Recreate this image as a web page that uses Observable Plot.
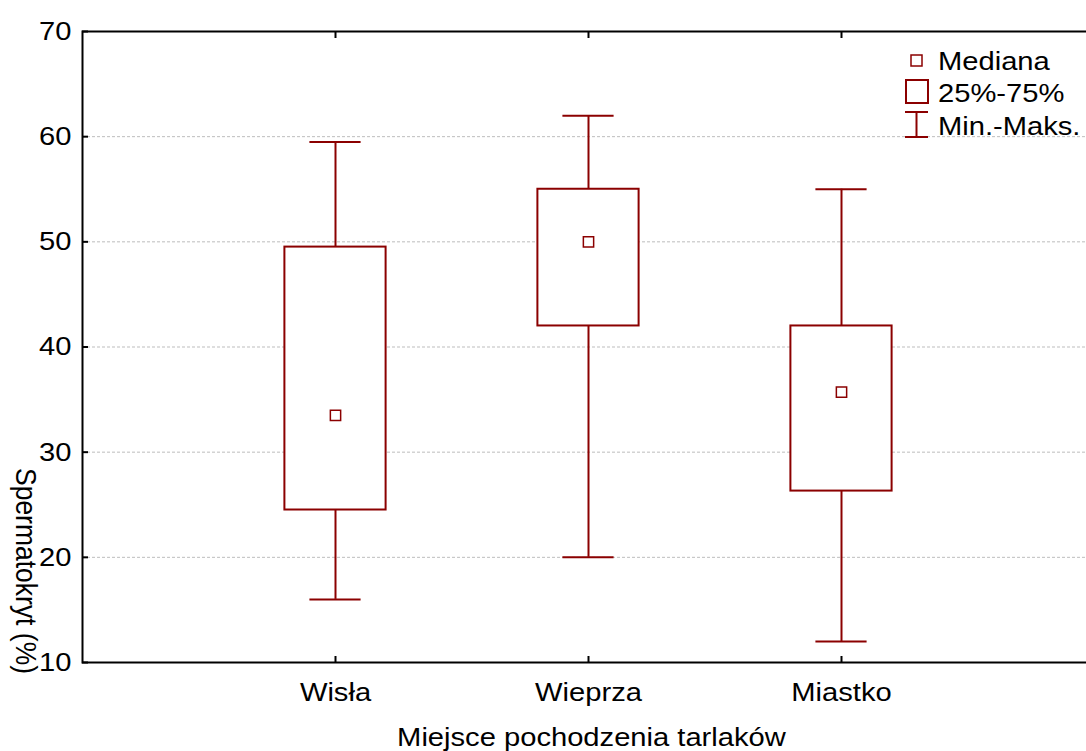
<!DOCTYPE html>
<html><head><meta charset="utf-8">
<script src="https://cdn.jsdelivr.net/npm/d3@7"></script>
<script src="https://cdn.jsdelivr.net/npm/@observablehq/plot@0.6"></script>
<style>
body{margin:0;background:#fff;}
#wrap{position:relative;width:1086px;height:751px;overflow:hidden;background:#fff;}
#legend{position:absolute;left:0;top:0;}
</style></head><body><div id="wrap"></div>
<script>
// ---- data ----
const sites = ["Wisła", "Wieprza", "Miastko"];
const minVals = [16, 20, 12];
const q1Vals = [24.5, 42, 26.3];
const medianVals = [33.5, 50, 35.7];
const q3Vals = [49.5, 55, 42];
const maxVals = [59.5, 62, 55];
const yTicks = [10, 20, 30, 40, 50, 60, 70];
const legendLabels = ["Mediana", "25%-75%", "Min.-Maks."];
const xTitle = "Miejsce pochodzenia tarlaków";
const yTitle = "Spermatokryt (%)";

const data = sites.map((s, i) => ({site: s, min: minVals[i], q1: q1Vals[i], med: medianVals[i], q3: q3Vals[i], max: maxVals[i]}));

const FONT = "'Liberation Sans', Arial, sans-serif";
const FS = 26.5;
const SX = 1.1; // reference text is slightly stretched horizontally

const C = "#8b0000";
const W = 1086, H = 751;

const chart = Plot.plot({
  width: W, height: H,
  marginTop: 31, marginBottom: 89, marginLeft: 82, marginRight: -8,
  style: {fontFamily: FONT, fontSize: FS + "px", color: "#000", background: "#fff", overflow: "hidden"},
  x: {type: "band", domain: sites, range: [82, 1094], paddingInner: 0.6, paddingOuter: 0.8, round: false, label: null},
  y: {domain: [10, 70], label: null},
  marks: [
    Plot.gridY(yTicks.slice(1, -1), {stroke: "#bdbdbd", strokeOpacity: 1, strokeDasharray: "3,2"}),
    Plot.ruleX(data, {x: "site", y1: "min", y2: "q1", stroke: C, strokeWidth: 2}),
    Plot.ruleX(data, {x: "site", y1: "q3", y2: "max", stroke: C, strokeWidth: 2}),
    Plot.tickY(data, {x: "site", y: "min", stroke: C, strokeWidth: 2, inset: 25}),
    Plot.tickY(data, {x: "site", y: "max", stroke: C, strokeWidth: 2, inset: 25}),
    Plot.barY(data, {x: "site", y1: "q1", y2: "q3", fill: "white", stroke: C, strokeWidth: 2}),
    Plot.dot(data, {x: "site", y: "med", symbol: "square", r: 5.8, fill: "white", stroke: C, strokeWidth: 1.5}),
    Plot.frame({stroke: "#000", strokeWidth: 2}),
    Plot.axisY(yTicks, {tickSize: 0, tickPadding: 11, label: null}),
    Plot.axisY(yTicks, {tickSize: 6, dx: 6, text: null, label: null, strokeWidth: 2}),
    Plot.axisX({anchor: "bottom", tickSize: 6, dy: -6, text: null, label: null, strokeWidth: 2}),
    Plot.axisX({anchor: "top", tickSize: 6, dy: 6, text: null, label: null, strokeWidth: 2}),
    Plot.axisX({anchor: "bottom", tickSize: 0, tickPadding: 20, label: null}),
    Plot.text([xTitle], {frameAnchor: "bottom", dx: 3, dy: 65, lineAnchor: "top", textAnchor: "middle"}),
    Plot.text([yTitle], {frameAnchor: "left", rotate: 90, dx: -57, dy: 224, textAnchor: "middle"})
  ]
});
document.getElementById("wrap").appendChild(chart);

// stretch chart texts horizontally (screen x) around their anchor, to mimic the reference
const NS = "http://www.w3.org/2000/svg";
Array.from(chart.querySelectorAll("text")).forEach(t => {
  try {
    const b = t.getBBox();
    const rotated = /rotate/.test(t.getAttribute("transform") || "");
    const ta = getComputedStyle(t).textAnchor;
    let lx = b.x + b.width / 2;
    if (!rotated && ta === "end") lx = b.x + b.width;
    if (!rotated && ta === "start") lx = b.x;
    let px = lx, py = b.y + b.height / 2;
    const tl = t.transform && t.transform.baseVal;
    const m = tl && tl.numberOfItems ? tl.consolidate().matrix : null;
    if (m) { const qx = m.a * px + m.c * py + m.e, qy = m.b * px + m.d * py + m.f; px = qx; py = qy; }
    if (!isFinite(px) || !isFinite(py)) return;
    const g = document.createElementNS(NS, "g");
    g.setAttribute("transform", `translate(${px},${py}) scale(${SX},1) translate(${-px},${-py})`);
    t.parentNode.insertBefore(g, t);
    g.appendChild(t);
  } catch (e) {}
});

// ---- legend overlay ----
const lg = d3.select("#wrap").append("svg").attr("id", "legend").attr("width", W).attr("height", 160)
  .style("font-family", FONT).style("font-size", FS + "px");
lg.append("rect").attr("x", 911).attr("y", 55).attr("width", 11).attr("height", 11)
  .attr("fill", "white").attr("stroke", C).attr("stroke-width", 1.5);
lg.append("rect").attr("x", 906).attr("y", 80).attr("width", 22).attr("height", 23)
  .attr("fill", "white").attr("stroke", C).attr("stroke-width", 2);
lg.append("line").attr("x1", 916.5).attr("x2", 916.5).attr("y1", 112).attr("y2", 137).attr("stroke", C).attr("stroke-width", 2);
lg.append("line").attr("x1", 905).attr("x2", 928).attr("y1", 112).attr("y2", 112).attr("stroke", C).attr("stroke-width", 2);
lg.append("line").attr("x1", 905).attr("x2", 928).attr("y1", 137).attr("y2", 137).attr("stroke", C).attr("stroke-width", 2);
const baselines = [70, 102, 135];
legendLabels.forEach((t, i) => {
  lg.append("text").attr("transform", `translate(938,${baselines[i]}) scale(${SX},1)`).attr("fill", "#000").text(t);
});
</script>
</body></html>
